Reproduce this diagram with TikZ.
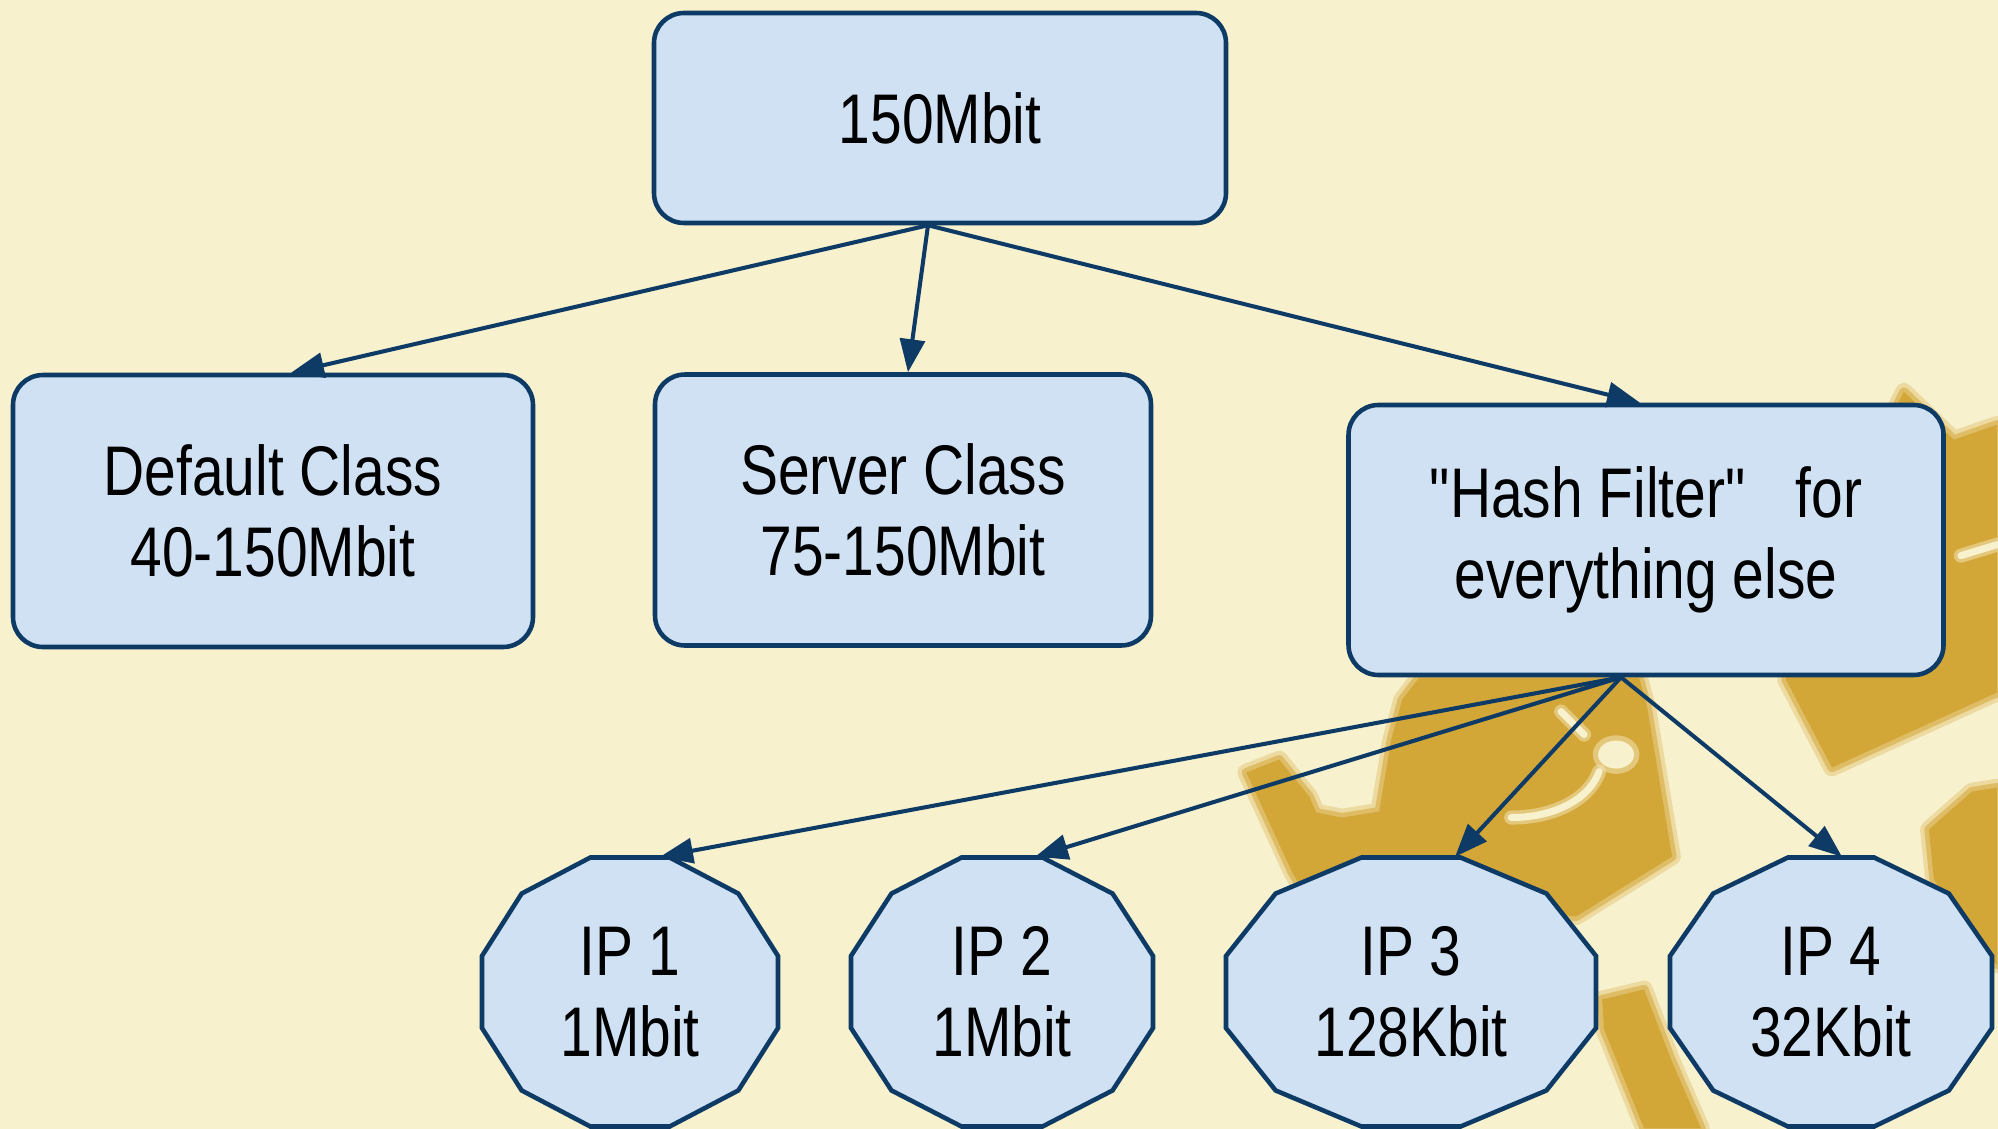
\documentclass[tikz,border=0pt]{standalone}
\usepackage{fontspec}
\setmainfont{Liberation Sans}[FakeStretch=0.81, Ligatures=TeXOff]
\usetikzlibrary{arrows.meta,backgrounds}
\definecolor{paper}{RGB}{248,241,206}
\definecolor{boxfill}{RGB}{207,225,242}
\definecolor{navy}{RGB}{14,58,102}
\definecolor{gold}{RGB}{211,166,56}
\newcommand\labelfont{\fontsize{20}{23.2}\selectfont}
\tikzset{
  box/.style={draw=navy, fill=boxfill, line width=1.3pt, rounded corners=0.3cm,
    align=center, inner sep=0pt, font=\labelfont},
  ipnode/.style={minimum width=#1cm, minimum height=2.69cm, inner sep=0pt,
    align=center, font=\labelfont},
  ipshape/.style={fill=boxfill, draw=navy, line width=1.3pt},
  link/.style={draw=navy, line width=1.15pt, -{Triangle[length=0.33cm,width=0.25cm]}},
  % soft-edged watermark pieces
  goldblob/.style={fill=gold, line join=round,
    preaction={draw=gold, draw opacity=0.3, line width=5pt, line join=round},
    preaction={draw=gold, draw opacity=0.55, line width=2.6pt, line join=round}},
  goldgap/.style={draw=paper, line width=2pt, line cap=round,
    preaction={draw=paper, draw opacity=0.45, line width=4pt, line cap=round}},
  goldhole/.style={fill=paper,
    preaction={draw=paper, draw opacity=0.45, line width=3pt}},
}
\begin{document}
\begin{tikzpicture}
\useasboundingbox (0,0) rectangle (19.98,-11.29);

% tree nodes
\node[box, minimum width=5.72cm, minimum height=2.10cm] (root) at (9.40,-1.18) {150Mbit};
\node[box, minimum width=5.20cm, minimum height=2.72cm] (dflt) at (2.73,-5.11)
  {Default Class\\40-150Mbit};
\node[box, minimum width=4.96cm, minimum height=2.71cm] (srv) at (9.03,-5.10)
  {Server Class\\75-150Mbit};
\node[box, minimum width=5.95cm, minimum height=2.70cm] (hash) at (16.46,-5.40)
  {"Hash Filter"\hspace{0.5cm}for\\everything else};
\node[ipnode=2.96] (ip1) at (6.30,-9.92) {IP 1\\1Mbit};
\node[ipnode=3.02] (ip2) at (10.02,-9.92) {IP 2\\1Mbit};
\node[ipnode=3.70] (ip3) at (14.11,-9.92) {IP 3\\128Kbit};
\node[ipnode=3.22] (ip4) at (18.31,-9.92) {IP 4\\32Kbit};

\begin{scope}[on background layer]
  \fill[paper] (0,0) rectangle (19.98,-11.29);
  % watermark shapes behind the tree
  \begin{scope}[x=0.01cm, y=-0.01cm]
    \path[goldblob] (1905,392) -- (1955,440) -- (1998,425) -- (1998,693) -- (1833,768)
      -- (1787,680) -- (1800,600) -- cycle;
    \path[goldblob] (1247,773) -- (1280,760) -- (1310,797) -- (1317,813) -- (1343,818)
      -- (1380,812) -- (1392,740) -- (1403,700) -- (1420,678) -- (1640,678)
      -- (1648,707) -- (1673,857) -- (1577,917) -- (1420,900) -- (1300,885)
      -- (1293,873) -- cycle;
    \path[goldblob] (1603,1000) -- (1645,990) -- (1672,1060) -- (1702,1129) -- (1645,1129)
      -- (1605,1030) -- cycle;
    \path[goldblob] (1930,830) -- (1973,792) -- (1998,788) -- (1998,965) -- (1980,950)
      -- (1935,880) -- cycle;
    \path[goldhole] (1617,755) ellipse [x radius=18, y radius=14];
    \draw[goldgap] (1512,818) .. controls (1555,818) and (1590,800) .. (1600,772);
    \draw[goldgap] (1562,712) -- (1585,735);
    \draw[goldgap] (1962,556) -- (1998,545);
  \end{scope}
  % twelve-sided outlines of the address nodes
  \foreach \n/\w in {ip1/2.96, ip2/3.02, ip3/3.70, ip4/3.22}{
    \begin{scope}[shift={(\n.center)}]
      \path[ipshape] ({\w/2},0.3605) -- ({0.732*\w/2},0.9845) -- ({0.268*\w/2},1.345)
        -- ({-0.268*\w/2},1.345) -- ({-0.732*\w/2},0.9845) -- ({-\w/2},0.3605)
        -- ({-\w/2},-0.3605) -- ({-0.732*\w/2},-0.9845) -- ({-0.268*\w/2},-1.345)
        -- ({0.268*\w/2},-1.345) -- ({0.732*\w/2},-0.9845) -- ({\w/2},-0.3605) -- cycle;
    \end{scope}
  }
\end{scope}

% connectors
\draw[link] ([xshift=-0.12cm]root.south) -- ([xshift=0.18cm]dflt.north);
\draw[link] ([xshift=-0.12cm]root.south) -- ([xshift=0.05cm]srv.north);
\draw[link] ([xshift=-0.12cm]root.south) -- ([xshift=-0.06cm]hash.north);
\draw[link] ([xshift=-0.25cm]hash.south) -- ([xshift=0.30cm]ip1.north);
\draw[link] ([xshift=-0.25cm]hash.south) -- ([xshift=0.33cm]ip2.north);
\draw[link] ([xshift=-0.25cm]hash.south) -- ([xshift=0.44cm]ip3.north);
\draw[link] ([xshift=-0.25cm]hash.south) -- ([xshift=0.11cm]ip4.north);
\end{tikzpicture}
\end{document}
